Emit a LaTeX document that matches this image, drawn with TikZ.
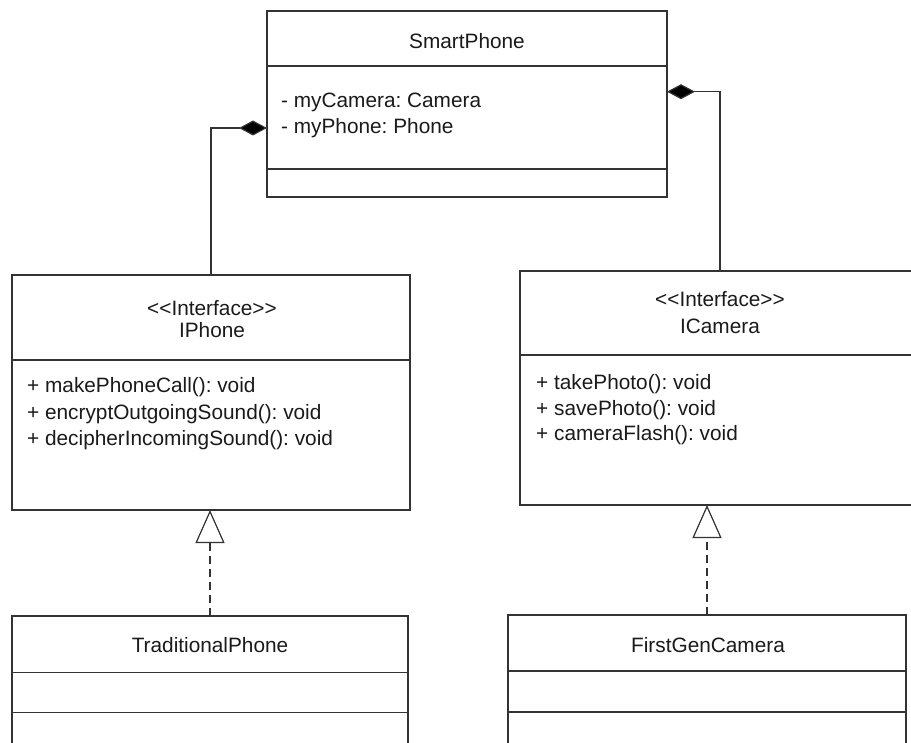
\documentclass[tikz,border=0pt]{standalone}
\usepackage{fontspec}
\setmainfont{Liberation Sans}
\usetikzlibrary{arrows.meta}
\definecolor{lc}{HTML}{333333}
\definecolor{tc}{HTML}{1A1A1A}
\frenchspacing
\newcommand{\stereo}[1]{<\kern0pt<#1>\kern0pt>}
\begin{document}
\frenchspacing
\begin{tikzpicture}[x=1pt,y=-1pt,
  comp/.style={draw=lc, line width=1.2pt, rectangle, inner sep=0pt, outer sep=0pt},
  txt/.style={inner sep=0pt, text=tc, font=\fontsize{20.8}{25}\selectfont, anchor=base west},
  ctxt/.style={inner sep=0pt, text=tc, font=\fontsize{20.8}{25}\selectfont, anchor=base},
  compose/.style={draw=lc, line width=1.2pt, -{Diamond[length=28pt,width=15pt,fill=black]}},
  realize/.style={draw=lc, line width=1.2pt, dash pattern=on 8pt off 5pt, -{Triangle[open,length=33pt,width=29pt]}}]
\useasboundingbox (0,0) rectangle (911,743);
\clip (0,0) rectangle (911,743);
% SmartPhone
\node[comp, minimum width=400pt, minimum height=55pt] (sphead) at (467,38.5) {};
\node[comp, minimum width=400pt, minimum height=103pt] (spattr) at (467,117.5) {};
\node[comp, minimum width=400pt, minimum height=28pt] (spmeth) at (467,183) {};
\node[ctxt] (sptitle) at (467,49) {SmartPhone};
\node[txt] (spa1) at (281,108) {- myCamera: Camera};
\node[txt] (spa2) at (281,134) {- myPhone: Phone};
% IPhone
\node[comp, minimum width=398pt, minimum height=85pt] (iphead) at (211,317.5) {};
\node[comp, minimum width=398pt, minimum height=150pt] (ipmeth) at (211,435) {};
\node[ctxt] (ipst) at (212,316) {\stereo{Interface}};
\node[ctxt] (iptitle) at (212,337.5) {IPhone};
\node[txt] (ipm1) at (27,392.7) {+ makePhoneCall(): void};
\node[txt] (ipm2) at (27,419.2) {+ encryptOutgoingSound(): void};
\node[txt] (ipm3) at (27,445.5) {+ decipherIncomingSound(): void};
% ICamera
\node[comp, minimum width=400pt, minimum height=84pt] (ichead) at (720,313) {};
\node[comp, minimum width=400pt, minimum height=150pt] (icmeth) at (720,430) {};
\node[ctxt] (icst) at (720,306.7) {\stereo{Interface}};
\node[ctxt] (ictitle) at (720,333.3) {ICamera};
\node[txt] (icm1) at (536,389.3) {+ takePhoto(): void};
\node[txt] (icm2) at (536,415.3) {+ savePhoto(): void};
\node[txt] (icm3) at (536,441) {+ cameraFlash(): void};
% TraditionalPhone
\node[comp, minimum width=396pt, minimum height=56.5pt] (tphead) at (210,644.25) {};
\node[comp, minimum width=396pt, minimum height=40pt] (tpattr) at (210,692.5) {};
\node[comp, minimum width=396pt, minimum height=77.5pt] (tpmeth) at (210,751.25) {};
\node[ctxt] (tptitle) at (210,652.7) {TraditionalPhone};
% FirstGenCamera
\node[comp, minimum width=398pt, minimum height=56pt] (fghead) at (707,643) {};
\node[comp, minimum width=398pt, minimum height=41pt] (fgattr) at (707,691.5) {};
\node[comp, minimum width=398pt, minimum height=78pt] (fgmeth) at (707,751) {};
\node[ctxt] (fgtitle) at (708,652.7) {FirstGenCamera};
% connectors
\draw[compose] (iphead.north) |- ([yshift=-10.5pt]spattr.west);
\draw[compose] (ichead.north) |- ([yshift=25.8pt]spattr.east);
\draw[realize] (tphead.north) -- (tphead.north |- ipmeth.south);
\draw[realize] (fghead.north) -- (fghead.north |- icmeth.south);
\end{tikzpicture}
\end{document}
